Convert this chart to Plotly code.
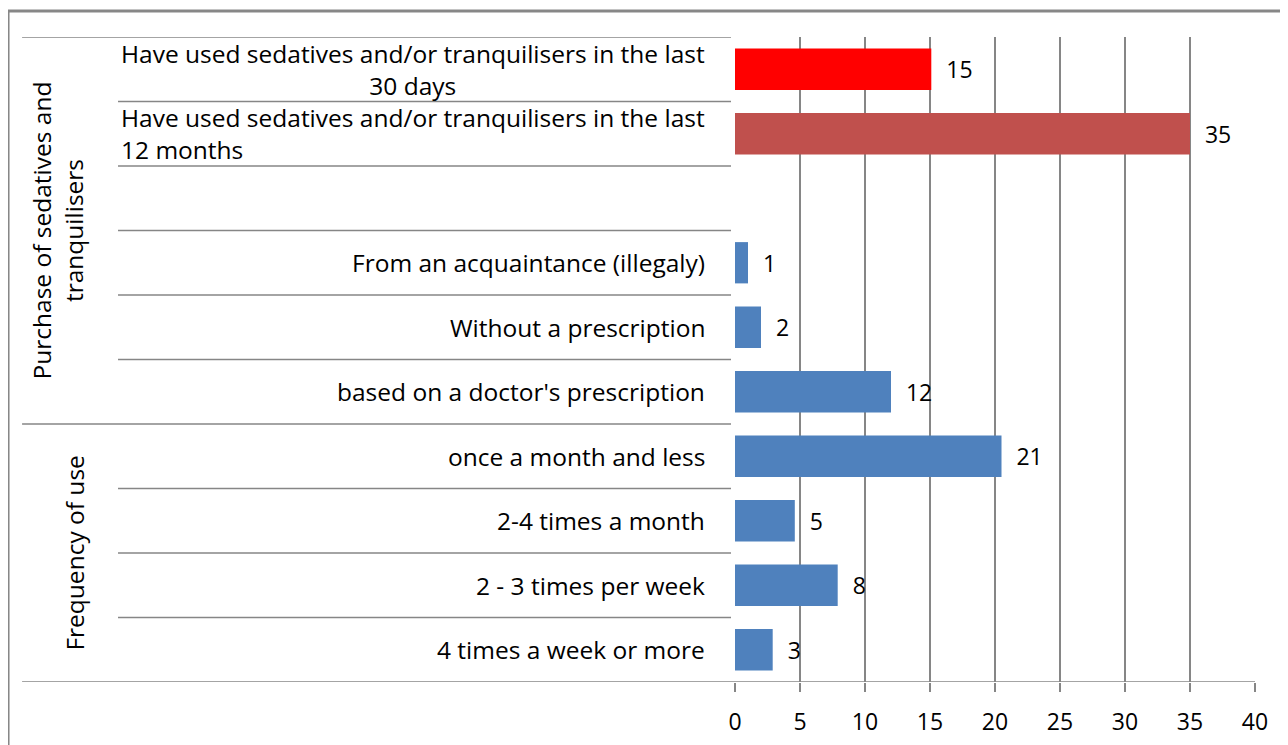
import plotly.graph_objects as go

# rows from top to bottom; row 3 is an empty spacer row in the original chart
row_labels = [
    "Have used sedatives and/or tranquilisers in the last<br>30 days",
    "Have used sedatives and/or tranquilisers in the last<br>12 months",
    "",
    "From an acquaintance (illegaly)",
    "Without a prescription",
    "based on a doctor's prescription",
    "once a month and less",
    "2-4 times a month",
    "2 - 3 times per week",
    "4 times a week or more",
]
bar_values = [15.1, 35, None, 1, 2, 12, 20.5, 4.6, 7.9, 2.9]
value_labels = ["15", "35", "", "1", "2", "12", "21", "5", "8", "3"]
bar_colors = ["#FF0000", "#C0504D", "#4F81BD", "#4F81BD", "#4F81BD", "#4F81BD",
              "#4F81BD", "#4F81BD", "#4F81BD", "#4F81BD"]
label_align = ["center", "left", "right", "right", "right", "right",
               "right", "right", "right", "right"]

groups = ["Purchase of sedatives and<br>tranquilisers", "Frequency of use"]
group_centers = [2.5, 7.5]
group_x = [-1.302, -1.272]

x_ticks = [0, 5, 10, 15, 20, 25, 30, 35, 40]

FONT = "'Open Sans', 'Noto Sans', sans-serif"
GRAY = "#868686"
rows = list(range(len(row_labels)))

fig = go.Figure()
fig.add_trace(go.Bar(
    x=bar_values, y=rows, orientation="h", width=0.64,
    marker=dict(color=bar_colors, line=dict(width=0)),
    text=["\u00a0\u00a0" + t for t in value_labels], textposition="outside",
    textfont=dict(family=FONT, size=23, color="#000000"),
    cliponaxis=False, showlegend=False,
))

# category labels (left table)
for i, lab in enumerate(row_labels):
    if lab:
        fig.add_annotation(x=-0.054, xref="paper", y=i, yref="y", text=lab,
                           xanchor="right", yanchor="middle", align=label_align[i],
                           showarrow=False, font=dict(family=FONT, size=24.5, color="#000000"))

for g, yc, gx in zip(groups, group_centers, group_x):
    fig.add_annotation(x=gx, xref="paper", y=yc, yref="y", text=g, textangle=-90,
                       xanchor="center", yanchor="middle",
                       showarrow=False, align="center",
                       font=dict(family=FONT, size=24.5, color="#000000"))

# table separator lines
x_long, x_short, x_end = -1.371, -1.1865, -0.0077
for b in [i - 0.5 for i in range(len(row_labels) + 1)]:
    x0 = x_long if b in (-0.5, 5.5, 9.5) else x_short
    x1 = 1.0 if b == 9.5 else x_end
    fig.add_shape(type="line", xref="paper", yref="y", x0=x0, x1=x1, y0=b, y1=b,
                  line=dict(color=GRAY, width=1.5))

# outer frame (right and bottom edges fall outside the picture)
fig.add_shape(type="rect", xref="paper", yref="paper", x0=-1.398, x1=1.3,
              y0=-0.4, y1=1.0403, line=dict(color="#878787", width=3))

fig.update_xaxes(range=[0, 40], tickvals=x_ticks, showgrid=True, gridcolor=GRAY,
                 gridwidth=1.5, zeroline=False, showline=False, ticks="outside",
                 ticklen=9, tickcolor=GRAY, tickwidth=1.5, ticklabelstandoff=10,
                 automargin=False,
                 tickfont=dict(family=FONT, size=23, color="#000000"))
fig.update_yaxes(range=[9.5, -0.5], showticklabels=False, showgrid=False,
                 zeroline=False, showline=False, automargin=False)

# the page body adds an 8px offset, so the figure is 8px smaller than the window
fig.update_layout(
    width=1280, height=737,
    margin=dict(l=727, r=33, t=29, b=63),
    paper_bgcolor="white", plot_bgcolor="white",
    bargap=0.36,
)

fig.write_html("out.html")
